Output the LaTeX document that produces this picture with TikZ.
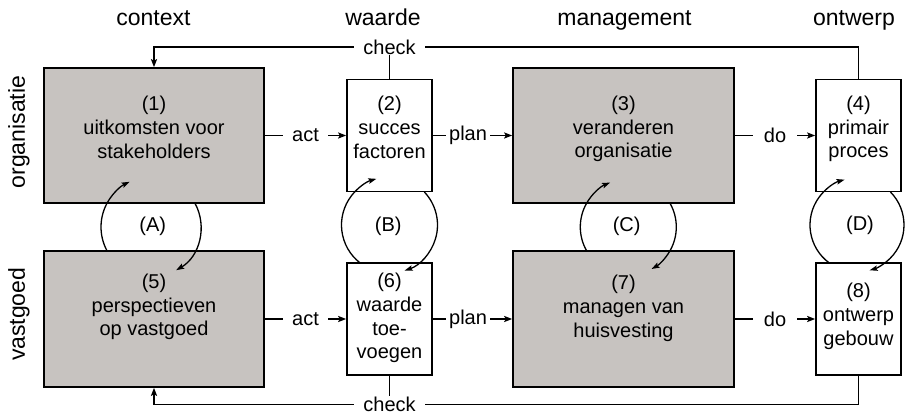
\documentclass[tikz,border=0pt]{standalone}
\usepackage{fontspec}
\setmainfont{Liberation Sans}
\usetikzlibrary{arrows.meta}
\definecolor{boxgrey}{RGB}{199,195,192}
\begin{document}
\begin{tikzpicture}[x=1pt,y=1pt,
  boxline/.style={draw=black, line width=1.6pt, inner sep=0pt, rectangle},
  wide/.style={boxline, fill=boxgrey, minimum width=220pt, minimum height=135pt},
  narrow/.style={boxline, fill=white, minimum width=85pt, minimum height=112pt},
  boxtext/.style={align=center, font=\fontsize{20}{23.7}\selectfont, inner sep=0pt},
  colhead/.style={font=\fontsize{23}{27}\selectfont, anchor=base, inner sep=0pt},
  rowhead/.style={font=\fontsize{23}{27}\selectfont, rotate=90, inner sep=0pt},
  flow/.style={line width=1.6pt, -{Stealth[length=8pt,width=6pt,inset=1.5pt]}},
  bare/.style={line width=1.6pt},
  turn/.style={line width=1.3pt, -{Stealth[length=8pt,width=5.5pt,inset=1.5pt]}},
  lbl/.style={fill=white, font=\fontsize{20}{24}\selectfont, inner ysep=0.5pt, inner xsep=#1},
  lbl/.default=9pt,
  looplbl/.style={font=\fontsize{20}{24}\selectfont, inner sep=0pt}]

\useasboundingbox (0,0) rectangle (905,415);

% column and row headings
\node[colhead] (h1) at (153.5,389) {context};
\node[colhead] (h2) at (383,389) {waarde};
\node[colhead] (h3) at (624.5,389) {management};
\node[colhead] (h4) at (854,389) {ontwerp};
\node[rowhead] (r1) at (19,283) {organisatie};
\node[rowhead] (r2) at (19,100.7) {vastgoed};

% boxes
\node[wide] (b1) at (154,279.5) {};
\node[narrow] (b2) at (389.5,279.5) {};
\node[wide, minimum width=221pt] (b3) at (623.5,279.5) {};
\node[narrow] (b4) at (858.5,279.5) {};
\node[wide, minimum height=136pt] (b5) at (154,96) {};
\node[narrow] (b6) at (389.5,96) {};
\node[wide, minimum width=221pt, minimum height=136pt] (b7) at (623.5,96) {};
\node[narrow] (b8) at (858.5,96) {};

% box texts
\node[boxtext] (t1) at (154,287.6) {(1)\\uitkomsten voor\\stakeholders};
\node[boxtext] (t2) at (389.5,287.6) {(2)\\succes\\factoren};
\node[boxtext] (t3) at (623.5,286) {(3)\\veranderen\\organisatie};
\node[boxtext] (t4) at (858.5,286) {(4)\\primair\\proces};
\node[boxtext] (t5) at (154,108) {(5)\\perspectieven\\op vastgoed};
\node[boxtext] (t6) at (389.5,96.8) {(6)\\waarde\\toe-\\voegen};
\node[boxtext] (t7) at (623.5,106.5) {(7)\\managen van\\huisvesting};
\node[boxtext] (t8) at (858.5,98.6) {(8)\\ontwerp\\gebouw};

% act / plan / do
\draw[flow] (b1.east) -- node[lbl] (a1) {act} (b2.west);
\draw[flow] (b2.east) -- node[lbl=3pt, pos=0.444] (p1) {plan} (b3.west);
\draw[flow] (b3.east) -- node[lbl=11pt] (d1) {do} (b4.west);
\draw[flow] (b5.east) -- node[lbl] (a2) {act} (b6.west);
\draw[flow] (b6.east) -- node[lbl=3pt, pos=0.444] (p2) {plan} (b7.west);
\draw[flow] (b7.east) -- node[lbl=11pt] (d2) {do} (b8.west);

% check feedback lines
\coordinate (topY) at (0,367.7);
\coordinate (botY) at (0,10.5);
\draw[flow] (b4.north) -- (b4.north |- topY) -- (b1.north |- topY) -- (b1.north);
\node[lbl] (c1) at (b2.north |- topY) {check};
\draw[bare] (b2.north) -- (c1);
\draw[flow] (b8.south) -- (b8.south |- botY) -- (b5.south |- botY) -- (b5.south);
\node[lbl] (c2) at (b6.south |- botY) {check};
\draw[bare] (b6.south) -- (c2);

% loops between the rows
\coordinate (oA) at (151,188);
\coordinate (oB) at (389.5,190);
\coordinate (oC) at (628.3,188);
\coordinate (oD) at (857,190);
\draw[turn] (oA) ++(208.7:50) arc[start angle=208.7, end angle=115.3, radius=50];
\draw[turn] (oA) ++(28.7:50) arc[start angle=28.7, end angle=-59.8, radius=50];
\draw[turn] (oB) ++(232.3:48) arc[start angle=232.3, end angle=105.9, radius=48];
\draw[turn] (oB) ++(43.4:48) arc[start angle=43.4, end angle=-71.6, radius=48];
\draw[turn] (oC) ++(210:48) arc[start angle=210, end angle=112.3, radius=48];
\draw[turn] (oC) ++(30:48) arc[start angle=30, end angle=-61, radius=48];
\draw[turn] (oD) ++(234:47) arc[start angle=234, end angle=105.3, radius=47];
\draw[turn] (oD) ++(44.6:47) arc[start angle=44.6, end angle=-74.4, radius=47];

\node[looplbl] (lA) at (152.7,188.3) {(A)};
\node[looplbl] (lB) at (388.3,188.3) {(B)};
\node[looplbl] (lC) at (626.7,188.3) {(C)};
\node[looplbl] (lD) at (860,190) {(D)};
\end{tikzpicture}
\end{document}
